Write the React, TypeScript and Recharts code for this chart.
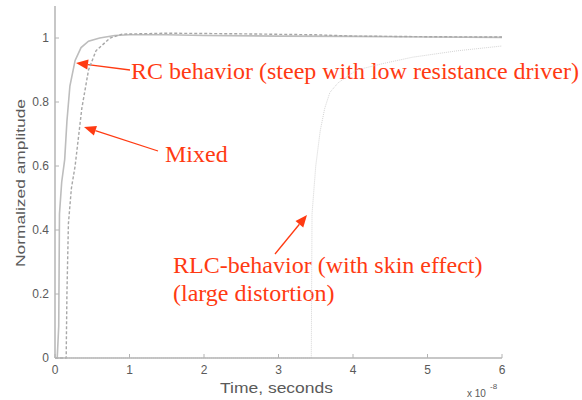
import React from "react";
import { CartesianGrid, Customized, Line, LineChart, XAxis, YAxis } from "recharts";

type Pt = { t: number; v: number };

// step responses (time in units of 1e-8 s)
const rcTimes = [0, 0.03, 0.05, 0.06, 0.09, 0.13, 0.16, 0.2, 0.27, 0.35, 0.45, 0.6, 0.8, 1.0, 1.5, 2, 3, 4, 5, 6];
const rcValues = [0, 0, 0.1, 0.45, 0.55, 0.62, 0.74, 0.85, 0.93, 0.97, 0.99, 1.0, 1.008, 1.01, 1.01, 1.008, 1.006, 1.005, 1.003, 1.002];

const mixedTimes = [0, 0.15, 0.16, 0.18, 0.22, 0.27, 0.31, 0.36, 0.45, 0.55, 0.74, 0.9, 1.5, 2.5, 3.5, 4, 5, 6];
const mixedValues = [0, 0, 0.2, 0.42, 0.53, 0.6, 0.68, 0.78, 0.9, 0.96, 1.0, 1.012, 1.015, 1.013, 1.01, 1.006, 1.004, 1.003];

const rlcTimes = [0, 3.44, 3.45, 3.5, 3.56, 3.62, 3.69, 3.8, 4.05, 4.4, 4.8, 5.4, 6];
const rlcValues = [0, 0, 0.45, 0.6, 0.71, 0.78, 0.83, 0.86, 0.9, 0.92, 0.94, 0.96, 0.975];

const xTicks = [0, 1, 2, 3, 4, 5, 6];
const yTicks = [0, 0.2, 0.4, 0.6, 0.8, 1];

const toPts = (ts: number[], vs: number[]): Pt[] => ts.map((t, i) => ({ t, v: vs[i] }));
const rcData = toPts(rcTimes, rcValues);
const mixedData = toPts(mixedTimes, mixedValues);
const rlcData = toPts(rlcTimes, rlcValues);

const AXIS = "#b4b4b4";
const TICK_TEXT = "#5a5a5a";
const RED = "#ff3a12";
const SANS = "'Liberation Sans', Arial, sans-serif";
const SERIF = "'Liberation Serif', 'Times New Roman', serif";

const BottomTick = (p: any) => (
  <g>
    <line x1={p.x} y1={p.y} x2={p.x} y2={p.y - 4} stroke={AXIS} />
    <text x={p.x} y={p.y + 16} textAnchor="middle" fontSize={12} fill={TICK_TEXT} fontFamily={SANS}>
      {p.payload.value}
    </text>
  </g>
);
const TopTick = (p: any) => <line x1={p.x} y1={p.y} x2={p.x} y2={p.y + 4} stroke={AXIS} />;
const LeftTick = (p: any) => (
  <g>
    <line x1={p.x} y1={p.y} x2={p.x + 4} y2={p.y} stroke={AXIS} />
    <text x={p.x - 6} y={p.y + 4} textAnchor="end" fontSize={12} fill={TICK_TEXT} fontFamily={SANS}>
      {p.payload.value}
    </text>
  </g>
);
const RightTick = (p: any) => <line x1={p.x} y1={p.y} x2={p.x - 4} y2={p.y} stroke={AXIS} />;

function Arrow({ x1, y1, x2, y2 }: { x1: number; y1: number; x2: number; y2: number }) {
  const a = Math.atan2(y2 - y1, x2 - x1);
  const L = 12, W = 5;
  const bx = x2 - L * Math.cos(a), by = y2 - L * Math.sin(a);
  const px = -Math.sin(a) * W, py = Math.cos(a) * W;
  return (
    <g>
      <line x1={x1} y1={y1} x2={bx} y2={by} stroke={RED} strokeWidth={1.3} />
      <polygon points={`${x2},${y2} ${bx + px},${by + py} ${bx - px},${by - py}`} fill={RED} />
    </g>
  );
}

const Notes = () => (
  <g>
    <text x={131} y={79} fontSize={24} fill={RED} fontFamily={SERIF}>
      RC behavior (steep with low resistance driver)
    </text>
    <Arrow x1={130} y1={70} x2={76} y2={63} />
    <text x={165} y={162} fontSize={24} fill={RED} fontFamily={SERIF}>Mixed</text>
    <Arrow x1={158} y1={151} x2={84} y2={127} />
    <text x={173} y={273} fontSize={24} fill={RED} fontFamily={SERIF}>RLC-behavior (with skin effect)</text>
    <text x={173} y={301} fontSize={24} fill={RED} fontFamily={SERIF}>(large distortion)</text>
    <Arrow x1={275} y1={254} x2={307} y2={215} />
    <text
      x={25}
      y={183}
      transform="rotate(-90 25 183)"
      textAnchor="middle"
      fontSize={13}
      textLength={168}
      lengthAdjust="spacingAndGlyphs"
      fill={TICK_TEXT}
      fontFamily={SANS}
    >
      Normalized amplitude
    </text>
    <text x={220} y={393} fontSize={14} textLength={113} lengthAdjust="spacingAndGlyphs" fill={TICK_TEXT} fontFamily={SANS}>
      Time, seconds
    </text>
    <text x={467} y={397} fontSize={10} fill={TICK_TEXT} fontFamily={SANS}>x 10</text>
    <text x={490} y={389} fontSize={8} fill={TICK_TEXT} fontFamily={SANS}>-8</text>
  </g>
);

export default function App() {
  return (
    <div style={{ position: "absolute", left: 0, top: 0, width: 582, height: 400, background: "#fff" }}>
      <LineChart width={582} height={400} margin={{ top: 6, right: 80, left: 25, bottom: 0 }}>
        <CartesianGrid stroke="none" />
        <XAxis
          type="number"
          dataKey="t"
          domain={[0, 6]}
          ticks={xTicks}
          height={42}
          stroke={AXIS}
          strokeWidth={1.5}
          tickLine={false}
          tickSize={0}
          tickMargin={0}
          tick={BottomTick}
          allowDuplicatedCategory={false}
        />
        <XAxis
          xAxisId="top"
          orientation="top"
          type="number"
          dataKey="t"
          domain={[0, 6]}
          ticks={xTicks}
          height={0}
          stroke={AXIS}
          strokeWidth={1.5}
          tickLine={false}
          tickSize={0}
          tickMargin={0}
          tick={TopTick}
        />
        <YAxis
          type="number"
          domain={[0, 1.1]}
          ticks={yTicks}
          width={30}
          stroke={AXIS}
          strokeWidth={1.5}
          tickLine={false}
          tickSize={0}
          tickMargin={0}
          tick={LeftTick}
        />
        <YAxis
          yAxisId="right"
          orientation="right"
          type="number"
          domain={[0, 1.1]}
          ticks={yTicks}
          width={0}
          stroke={AXIS}
          strokeWidth={1.5}
          tickLine={false}
          tickSize={0}
          tickMargin={0}
          tick={RightTick}
        />
        <Line data={rlcData} dataKey="v" type="linear" stroke="#d4d4d4" strokeWidth={1} strokeDasharray="1 1" dot={false} isAnimationActive={false} />
        <Line data={rcData} dataKey="v" type="linear" stroke="#bdbdbd" strokeWidth={1.6} dot={false} isAnimationActive={false} />
        <Line data={mixedData} dataKey="v" type="linear" stroke="#a8a8a8" strokeWidth={1.4} strokeDasharray="3 2" dot={false} isAnimationActive={false} />
        <Customized component={Notes} />
      </LineChart>
    </div>
  );
}
